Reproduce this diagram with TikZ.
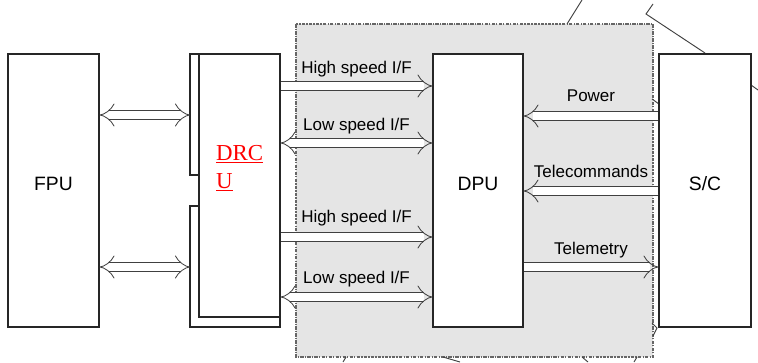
\documentclass[tikz,border=0pt]{standalone}
\usepackage{fontspec}
\setmainfont{Liberation Sans}
\newfontfamily\serifrm{Liberation Serif}
\usetikzlibrary{arrows.meta,fit}

\tikzset{
  box/.style={draw=black!85, line width=0.9pt, fill=white, inner sep=0pt},
  bus/.style={draw=black!75, line width=0.7pt, double=white, double distance=6.4pt},
  lbl/.style={midway, anchor=base, yshift=10.5pt, inner sep=0pt, font=\fontsize{14.5}{16}\selectfont},
  stub/.style={draw=black!75, line width=0.8pt}
}

\begin{document}
\begin{tikzpicture}[x=0.03cm, y=-0.03cm]
  \useasboundingbox (0,0) rectangle (758,362);

  % DPU area (grey, dashed)
  \draw[fill=gray!20, draw=black!60, line width=1pt, dash pattern=on 3pt off 1pt on 1pt off 1pt] (296,24) rectangle (653,357);

  % cut-off lines round the frame
  \draw[stub] (582,0) -- (567,24);
  \draw[stub] (653,4) -- (646,14) -- (705,53);
  \draw[stub] (751,85) -- (758,90);
  \draw[stub] (652,99) -- (659,104);
  \draw[stub] (652,323) -- (657,328) -- (653,336);
  \draw[stub] (346,357) -- (343,362);
  \draw[stub] (443,357) -- (460,362);
  \draw[stub] (582,357) -- (588,362);
  \draw[stub] (637,357) -- (634,362);

  % blocks
  \node[box, fit={(8,54) (99,327)}, font=\fontsize{16.5}{18}\selectfont] (fpu) {FPU};
  \draw[box, fill=none] (199,54) -| (190,175) -- (199,175);
  \draw[box, fill=none] (199,206) -| (190,327) -| (280,317);
  \node[box, fit={(199,54) (280,317)}] (drcu) {};
  \node[box, fit={(433,54) (523,327)}, font=\fontsize{16.5}{18}\selectfont] (dpu) {DPU};
  \node[box, fit={(659,54) (751,327)}, font=\fontsize{16.5}{18}\selectfont] (sc) {S/C};
  \node[anchor=west, inner sep=0pt, align=left, text=red, font=\serifrm\fontsize{19.5}{24}\selectfont] (drcul) at (216,168) {\underline{DRC}\\\underline{U}};
  \coordinate (drcuback) at (190,54);

  % FPU <-> DRCU
  \draw[bus, Implies-Implies] (fpu.east |- 0,115) -- (drcuback |- 0,115);
  \draw[bus, Implies-Implies] (fpu.east |- 0,267) -- (drcuback |- 0,267);

  % DRCU <-> DPU
  \draw[bus, -Implies] (drcu.east |- 0,86) -- (dpu.west |- 0,86) node[lbl] {High speed I/F};
  \draw[bus, Implies-Implies] (drcu.east |- 0,143) -- (dpu.west |- 0,143) node[lbl] {Low speed I/F};
  \draw[bus, -Implies] (drcu.east |- 0,237) -- (dpu.west |- 0,237) node[lbl, yshift=2pt] {High speed I/F};
  \draw[bus, Implies-Implies] (drcu.east |- 0,297) -- (dpu.west |- 0,297) node[lbl, yshift=1pt] {Low speed I/F};

  % S/C <-> DPU
  \draw[bus, -Implies] (sc.west |- 0,116) -- (dpu.east |- 0,116) node[lbl, yshift=2pt] {Power};
  \draw[bus, -Implies] (sc.west |- 0,191) -- (dpu.east |- 0,191) node[lbl, yshift=1pt] {Telecommands};
  \draw[bus, -Implies] (dpu.east |- 0,267) -- (sc.west |- 0,267) node[lbl] {Telemetry};
\end{tikzpicture}
\end{document}
